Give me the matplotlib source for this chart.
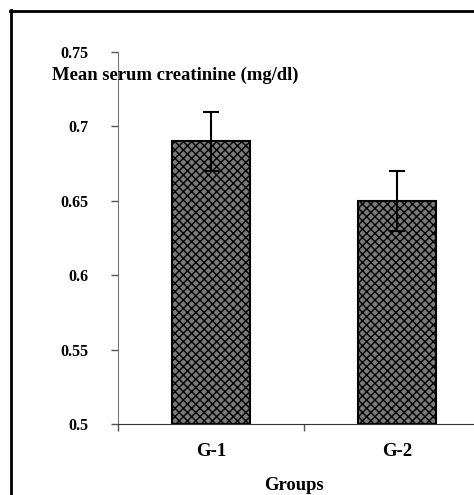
import matplotlib
matplotlib.use("Agg")
import matplotlib.pyplot as plt
from matplotlib.lines import Line2D

categories = ["G-1", "G-2"]
means = [0.69, 0.65]
errors = [0.02, 0.02]
yticks = [0.5, 0.55, 0.6, 0.65, 0.7, 0.75]
ytick_labels = ["0.5", "0.55", "0.6", "0.65", "0.7", "0.75"]

plt.rcParams['font.family'] = ['Liberation Serif', 'DejaVu Serif']
plt.rcParams['font.weight'] = 'bold'
plt.rcParams['hatch.linewidth'] = 1.0

fig = plt.figure(figsize=(4.74, 4.95), dpi=100)
ax = fig.add_axes([118/474, 1 - 424/495, 1 - 118/474, (424 - 52)/495])

x = list(range(len(categories)))
ax.bar(x, [m - 0.5 for m in means], bottom=0.5, width=0.42,
       color='#7a7a7a', edgecolor='black', hatch='xxxx', linewidth=1.5, zorder=2)
ax.errorbar(x, means, yerr=errors, fmt='none', ecolor='black',
            elinewidth=1.5, capsize=5.5, capthick=1.5, zorder=3)

ax.set_yticks(yticks)
ax.set_yticklabels(ytick_labels, fontsize=11.5, fontweight='bold')
ax.tick_params(axis='y', direction='out', length=5, width=1, pad=16, colors='#555555', labelcolor='black')

ax.set_xticks([-0.5, 0.5])
ax.set_xticklabels([])
ax.set_xticks(x, minor=True)
ax.set_xticklabels(categories, minor=True, fontsize=13.5, fontweight='bold')
ax.tick_params(axis='x', which='major', direction='out', length=5, width=1, colors='#555555')
ax.tick_params(axis='x', which='minor', length=0, pad=14)

ax.set_ylim(0.5, 0.75)
ax.set_xlim(-0.5, (474 - 118)/186 - 0.5)

for s in ['top', 'right']:
    ax.spines[s].set_visible(False)
ax.spines['left'].set_color('#777777')
ax.spines['bottom'].set_color('#333333')

fig.text(52/474, 1 - 75/495, "Mean serum creatinine (mg/dl)", ha='left', va='center',
         fontsize=13.4, fontweight='bold')
fig.text(294/474, 1 - 485/495, "Groups", ha='center', va='center', fontsize=13.4, fontweight='bold')

# outer frame
fig.add_artist(Line2D([11/474, 11/474], [0, 1 - 10/495], transform=fig.transFigure, color='black', lw=2))
fig.add_artist(Line2D([10/474, 1], [1 - 11/495, 1 - 11/495], transform=fig.transFigure, color='black', lw=2))

fig.savefig("out.png", dpi=100)
